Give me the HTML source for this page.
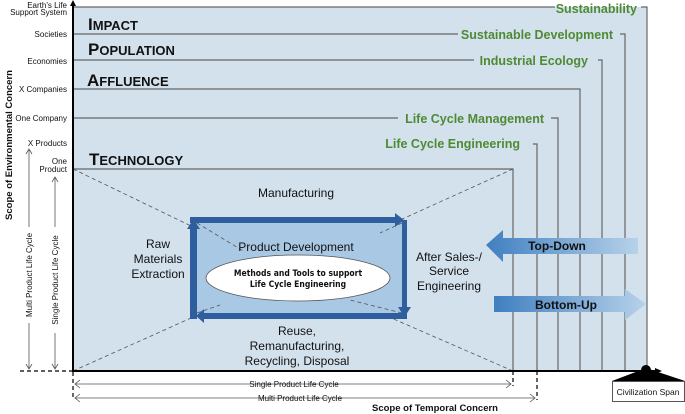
<!DOCTYPE html>
<html><head><meta charset="utf-8"><style>
html,body{margin:0;padding:0;background:#fff;}
svg{display:block;font-family:"Liberation Sans",Arial,sans-serif;}
</style></head><body>
<svg width="685" height="414" viewBox="0 0 685 414" xmlns="http://www.w3.org/2000/svg">
<defs>
<linearGradient id="gl" x1="0" x2="1" y1="0" y2="0"><stop offset="0" stop-color="#3f7fc0"/><stop offset="1" stop-color="#b7d2ea"/></linearGradient>
<linearGradient id="gr" x1="0" x2="1" y1="0" y2="0"><stop offset="0" stop-color="#3f7fc0"/><stop offset="1" stop-color="#b7d2ea"/></linearGradient>
</defs>
<rect x="73" y="7" width="574" height="364" fill="#d3e1ed"/>
<g stroke="#666" stroke-width="1.2" fill="none">
<path d="M73 7H555M641 7H647V371"/>
<path d="M73 34H458M620 34H625V371"/>
<path d="M73 60H474M598 60H602V371"/>
<path d="M73 89H580V371"/>
<path d="M73 118H398M551 118H558V371"/>
<path d="M533 144H537V371"/>
<path d="M73 169H513V371"/>
</g>
<g font-weight="bold" fill="#4e8a33" font-size="12.5">
<text x="637" y="13" text-anchor="end">Sustainability</text>
<text x="613" y="39" text-anchor="end">Sustainable Development</text>
<text x="588" y="65" text-anchor="end">Industrial Ecology</text>
<text x="544" y="123" text-anchor="end">Life Cycle Management</text>
<text x="520" y="148" text-anchor="end">Life Cycle Engineering</text>
</g>
<g font-weight="bold" fill="#111">
<text x="88" y="30" font-size="17">I<tspan font-size="13">MPACT</tspan></text>
<text x="88" y="55" font-size="17">P<tspan font-size="13">OPULATION</tspan></text>
<text x="87" y="86" font-size="17">A<tspan font-size="13">FFLUENCE</tspan></text>
<text x="89" y="165" font-size="17">T<tspan font-size="13">ECHNOLOGY</tspan></text>
</g>
<g stroke="#555" stroke-width="0.8" stroke-dasharray="4,3" fill="none">
<path d="M73 169L245 252"/><path d="M73 371L220 305"/>
<path d="M513 169L400 220"/><path d="M513 371L350 300"/>
</g>
<rect x="193" y="220" width="211" height="96" fill="#a9c8e4"/>
<g stroke="#555" stroke-width="0.8" stroke-dasharray="4,3" fill="none">
<path d="M197 223L245 252"/><path d="M197 313L220 305"/>
<path d="M402 223L380 233"/><path d="M402 313L350 300"/>
</g>
<g fill="#2e5e9e">
<rect x="190" y="217" width="206" height="6"/><polygon points="395,213 404,220 395,227"/>
<rect x="402" y="220" width="5" height="88"/><polygon points="398,307 404.5,317 411,307"/>
<rect x="200" y="313" width="207" height="6"/><polygon points="204,309 196,316 204,323"/>
<rect x="190" y="228" width="7" height="91"/><polygon points="187,229 193.5,219 200,229"/>
</g>
<ellipse cx="298" cy="278" rx="92" ry="23" fill="#fff" stroke="#555" stroke-width="0.8"/>
<g font-weight="bold" font-size="8.5" fill="#111" text-anchor="middle" font-family="'DejaVu Sans Condensed','Liberation Sans',sans-serif">
<text x="298" y="276">Methods and Tools to support</text>
<text x="298" y="287">Life Cycle Engineering</text>
</g>
<g font-size="12" fill="#111" text-anchor="middle">
<text x="296" y="197">Manufacturing</text>
<text x="296" y="251">Product Development</text>
<text x="158" y="248">Raw</text><text x="158" y="263">Materials</text><text x="158" y="278">Extraction</text>
<text x="449" y="261">After Sales-/</text><text x="449" y="275">Service</text><text x="449" y="290">Engineering</text>
<text x="297" y="335">Reuse,</text><text x="297" y="350">Remanufacturing,</text><text x="297" y="365">Recycling, Disposal</text>
</g>
<polygon points="486,245 503,230 503,238 638,238 638,254 503,254 503,262" fill="url(#gl)"/>
<text x="557" y="250" font-weight="bold" font-size="12" text-anchor="middle" fill="#111">Top-Down</text>
<polygon points="494,296 625,296 625,289 646,304 625,320 625,312 494,312" fill="url(#gr)"/>
<text x="566" y="309" font-weight="bold" font-size="12" text-anchor="middle" fill="#111">Bottom-Up</text>
<line x1="73" y1="4" x2="73" y2="372" stroke="#000" stroke-width="2"/>
<polygon points="70,6 73,0 76,6" fill="#000"/>
<line x1="73" y1="371" x2="655" y2="371" stroke="#000" stroke-width="2"/>
<polygon points="655,368 662,371 655,374" fill="#000"/>
<circle cx="646" cy="370" r="5" fill="#000"/>
<polygon points="646,368 612,381 685,381" fill="#000"/>
<rect x="612.5" y="381.5" width="72" height="20" fill="#fff" stroke="#555"/>
<text x="648" y="395" font-size="8.5" text-anchor="middle" fill="#111">Civilization Span</text>
<g stroke="#000" stroke-width="1.2" stroke-dasharray="4,3" fill="none">
<path d="M20 371H73"/><path d="M73 372V400"/><path d="M513 371V386"/><path d="M537 371V400"/>
</g>
<g stroke="#555" stroke-width="0.8" fill="none">
<path d="M75 384H511M80 380L75 384L80 388M506 380L511 384L506 388"/>
<path d="M75 398H535M80 394L75 398L80 402M530 394L535 398L530 402"/>
<path d="M29 150V227M29 323V369M26 154L29 149L32 154M26 364L29 369L32 364"/>
<path d="M55 178V227M55 333V369M52 182L55 177L58 182M52 364L55 369L58 364"/>
</g>
<g font-size="8" fill="#111">
<text x="294" y="387" text-anchor="middle">Single Product Life Cycle</text>
<text x="300" y="401" text-anchor="middle">Multi Product Life Cycle</text>
<text x="67" y="8" text-anchor="end">Earth's Life</text>
<text x="67" y="15" text-anchor="end">Support System</text>
<text x="67" y="37" text-anchor="end">Societies</text>
<text x="67" y="64" text-anchor="end">Economies</text>
<text x="67" y="92" text-anchor="end">X Companies</text>
<text x="67" y="121" text-anchor="end">One Company</text>
<text x="67" y="146" text-anchor="end">X Products</text>
<text x="67" y="164" text-anchor="end">One</text>
<text x="67" y="172" text-anchor="end">Product</text>
<text transform="translate(32,275) rotate(-90)" text-anchor="middle">Multi Product Life Cycle</text>
<text transform="translate(58,280) rotate(-90)" text-anchor="middle">Single Product Life Cycle</text>
</g>
<text transform="translate(12,145) rotate(-90)" text-anchor="middle" font-size="9.5" font-weight="bold" fill="#111">Scope of Environmental Concern</text>
<text x="435" y="411" text-anchor="middle" font-size="9.5" font-weight="bold" fill="#111">Scope of Temporal Concern</text>
</svg>
</body></html>
